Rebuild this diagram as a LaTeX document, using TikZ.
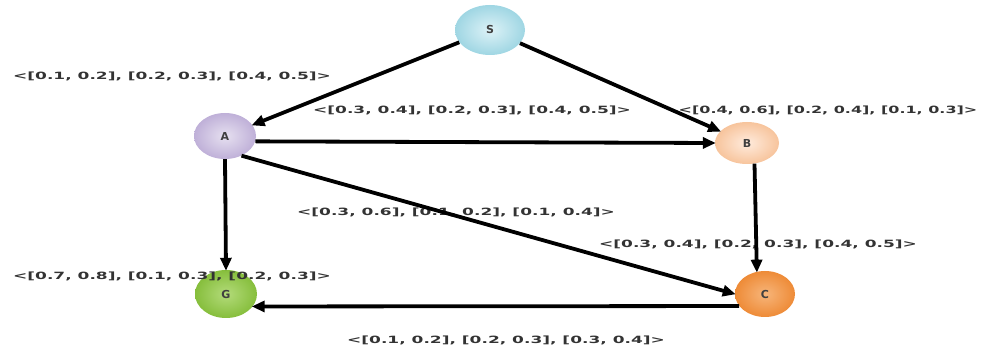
\documentclass[tikz,border=0pt]{standalone}
\usepackage{fontspec}
\newfontfamily\lblfont{DejaVu Sans}
\usetikzlibrary{shapes.geometric,arrows.meta}
\definecolor{sIn}{HTML}{DDF2F7}
\definecolor{sOut}{HTML}{9FD6E3}
\definecolor{aIn}{HTML}{E6E0F0}
\definecolor{aOut}{HTML}{BFB0D8}
\definecolor{bIn}{HTML}{FFEBDD}
\definecolor{bOut}{HTML}{F7C49C}
\definecolor{gIn}{HTML}{B3DB7A}
\definecolor{gOut}{HTML}{86BE3C}
\definecolor{cIn}{HTML}{F7B57A}
\definecolor{cOut}{HTML}{EE8B37}
\tikzset{
  vert/.style={ellipse, inner sep=0pt, font=\lblfont\bfseries\fontsize{11}{12}\selectfont, text=black!75},
  lbl/.style={inner sep=0pt, font=\lblfont\bfseries\fontsize{10}{11}\selectfont, text=black!80, xscale=1.7, transform shape},
  edge/.style={line width=3.8pt, black, -{Triangle[length=13pt,width=11pt]}, shorten >=-1pt}
}
\begin{document}
\begin{tikzpicture}[x=1pt,y=-1pt]
\useasboundingbox (0,0) rectangle (989,352);
% nodes
\node[vert, minimum width=70pt, minimum height=50pt, inner color=sIn, outer color=sOut] (S) at (490,30) {S};
\node[vert, minimum width=62pt, minimum height=46pt, inner color=aIn, outer color=aOut] (A) at (225,136) {A};
\node[vert, minimum width=64pt, minimum height=42pt, inner color=bIn, outer color=bOut] (B) at (747,143) {B};
\node[vert, minimum width=62pt, minimum height=48pt, inner color=gIn, outer color=gOut] (G) at (226,294) {G};
\node[vert, minimum width=60pt, minimum height=46pt, inner color=cIn, outer color=cOut] (C) at (765,294) {C};
% labels
\node[lbl] (l1) at (172,76) {<[0.1, 0.2], [0.2, 0.3], [0.4, 0.5]>};
\node[lbl] (l2) at (472,110) {<[0.3, 0.4], [0.2, 0.3], [0.4, 0.5]>};
\node[lbl, xscale=0.94] (l3) at (828,110) {<[0.4, 0.6], [0.2, 0.4], [0.1, 0.3]>};
\node[lbl] (l4) at (456,212) {<[0.3, 0.6], [0.1, 0.2], [0.1, 0.4]>};
\node[lbl] (l5) at (758,244) {<[0.3, 0.4], [0.2, 0.3], [0.4, 0.5]>};
\node[lbl] (l6) at (172,276) {<[0.7, 0.8], [0.1, 0.3], [0.2, 0.3]>};
\node[lbl] (l7) at (506,340) {<[0.1, 0.2], [0.2, 0.3], [0.3, 0.4]>};
% edges
\draw[edge] (S) -- (A);
\draw[edge] (S) -- (B);
\draw[edge] (A.-10) -- (B.west);
\draw[edge] (A.south) -- (G.north);
\draw[edge] (A.-50) -- (C.west);
\draw[edge] (B.-70) -- (C.110);
\draw[edge] (C.205) -- (G.335);
\end{tikzpicture}
\end{document}
